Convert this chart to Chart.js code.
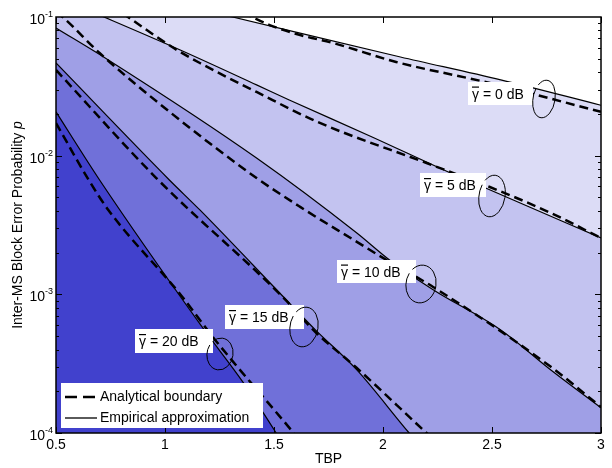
<!DOCTYPE html>
<html lang="en">
<head>
  <meta charset="UTF-8" />
  <title>Inter-MS Block Error Probability vs TBP</title>
  <script src="https://cdn.jsdelivr.net/npm/chart.js"></script>
  <style>
    html, body { margin: 0; padding: 0; background: #fff; }
    #wrap { width: 612px; height: 468px; position: relative; }
  </style>
</head>
<body>
  <div id="wrap"><canvas id="chart"></canvas></div>

  <script>
    // curves: [TBP, p]
    const snrLabels = ['0', '5', '10', '15', '20'];

    const emp0 = [[0.5, 0.2], [1.31, 0.1], [2.08, 0.0515], [2.54, 0.0352], [3.0, 0.0231]];
    const emp5 = [[0.5, 0.14], [0.72, 0.1], [1.07, 0.0578], [1.42, 0.0324], [1.57, 0.0252], [1.95, 0.01365], [2.31, 0.0075], [2.46, 0.00594], [3.0, 0.00255]];
    const emp10 = [[0.5, 0.0833], [0.74, 0.049], [1.42, 0.00962], [1.88, 0.00277], [2.03, 0.00177], [2.23, 0.00108], [2.54, 0.000554], [2.77, 0.000285], [3.0, 0.000152]];
    const emp15 = [[0.5, 0.0466], [1.02, 0.00668], [1.16, 0.00406], [1.57, 0.000867], [1.69, 0.000554], [1.88, 0.000285], [2.12, 0.0001], [2.2, 0.000072]];
    const emp20 = [[0.5, 0.0207], [0.70, 0.00668], [1.17, 0.000582], [1.36, 0.00023], [1.51, 0.0001], [1.6, 0.000059]];

    const ana0 = [[1.3, 0.12], [1.40, 0.1], [1.48, 0.0875], [1.62, 0.0741], [1.77, 0.065], [2.06, 0.0474], [2.49, 0.0334], [3.0, 0.0207]];
    const ana5 = [[0.7, 0.138], [0.83, 0.1], [1.04, 0.0597], [1.16, 0.0466], [1.42, 0.0288], [1.70, 0.0175], [2.20, 0.00885], [2.49, 0.00594], [2.77, 0.00386], [3.0, 0.00255]];
    const ana10 = [[0.45, 0.125], [0.53, 0.1], [0.70, 0.055], [1.04, 0.0196], [1.42, 0.0069], [1.62, 0.00427], [1.88, 0.00239], [2.0, 0.00183], [2.23, 0.00113], [2.77, 0.0003], [3.0, 0.000154]];
    const ana15 = [[0.5, 0.0415], [0.96, 0.0069], [1.54, 0.000957], [1.69, 0.000535], [1.88, 0.000294], [2.2, 0.0001], [2.3, 0.000072]];
    const ana20 = [[0.5, 0.0172], [0.65, 0.00668], [0.74, 0.00406], [1.08, 0.000957], [1.17, 0.000622], [1.23, 0.000469], [1.59, 0.0001], [1.7, 0.000061]];

    const xTicks = [0.5, 1, 1.5, 2, 2.5, 3];
    const xTickLabels = ['0.5', '1', '1.5', '2', '2.5', '3'];
    const yDecades = [1e-1, 1e-2, 1e-3, 1e-4];
    const yExpLabels = ['-1', '-2', '-3', '-4'];

    // region colours, 0 dB band lightest
    const bandColors = ['#dcdcf6', '#c3c3f0', '#9f9fe6', '#7070d9', '#4141cd'];

    const FONT = '"Liberation Sans", Arial, sans-serif';
    const pts = arr => arr.map(([x, y]) => ({ x, y }));

    const dashed = d => ({
      data: pts(d), borderColor: '#000', borderWidth: 2.5, borderDash: [9, 5],
      pointRadius: 0, fill: false, cubicInterpolationMode: 'monotone'
    });
    const solid = (d, c) => ({
      data: pts(d), borderColor: '#000', borderWidth: 1.2, backgroundColor: c,
      pointRadius: 0, fill: 'start', cubicInterpolationMode: 'monotone'
    });

    // labels: box [x, y, w, h], ellipse [cx, cy, rx, ry]
    const labelBoxes = [[468, 82, 65, 23], [420, 173, 66, 24], [337, 260, 79, 23], [225, 305, 79, 24], [135, 329, 78, 24]];
    const loops = [[544, 99, 11, 19], [492, 196, 13, 21], [421, 284, 15, 19], [304, 327, 14, 20], [220, 354, 13, 16]];

    const decor = {
      id: 'decor',
      afterDatasetsDraw(chart) {
        const { ctx, chartArea: a, scales: { x, y } } = chart;
        ctx.save();

        // frame
        ctx.strokeStyle = '#000';
        ctx.lineWidth = 1.5;
        ctx.strokeRect(a.left, a.top, a.right - a.left, a.bottom - a.top);

        // inward ticks
        ctx.lineWidth = 1;
        ctx.beginPath();
        xTicks.forEach(v => {
          const px = Math.round(x.getPixelForValue(v)) + 0.5;
          ctx.moveTo(px, a.bottom); ctx.lineTo(px, a.bottom - 6);
          ctx.moveTo(px, a.top); ctx.lineTo(px, a.top + 6);
        });
        for (let d = -4; d < -1; d++) {
          for (let k = 1; k <= 9; k++) {
            const py = Math.round(y.getPixelForValue(k * Math.pow(10, d))) + 0.5;
            const len = k === 1 ? 6 : 3;
            ctx.moveTo(a.left, py); ctx.lineTo(a.left + len, py);
            ctx.moveTo(a.right, py); ctx.lineTo(a.right - len, py);
          }
        }
        ctx.stroke();

        // y tick labels 10^n
        ctx.fillStyle = '#000';
        ctx.textBaseline = 'alphabetic';
        yDecades.forEach((v, i) => {
          const py = y.getPixelForValue(v);
          ctx.font = '14px ' + FONT;
          ctx.textAlign = 'right';
          ctx.fillText('10', 45, py + 7);
          ctx.font = '9px ' + FONT;
          ctx.textAlign = 'left';
          ctx.fillText(yExpLabels[i], 45, py);
        });

        // y axis title with italic p
        ctx.save();
        ctx.translate(18, (a.top + a.bottom) / 2);
        ctx.rotate(-Math.PI / 2);
        ctx.textAlign = 'left';
        ctx.textBaseline = 'middle';
        ctx.font = '14px ' + FONT;
        const t1 = 'Inter-MS Block Error Probability ';
        const w1 = ctx.measureText(t1).width;
        ctx.font = 'italic 14px ' + FONT;
        const w2 = ctx.measureText('p').width;
        const sx = -(w1 + w2) / 2;
        ctx.font = '14px ' + FONT;
        ctx.fillText(t1, sx, 0);
        ctx.font = 'italic 14px ' + FONT;
        ctx.fillText('p', sx + w1, 0);
        ctx.restore();

        // gamma labels
        labelBoxes.forEach(([bx, by, bw, bh], i) => {
          ctx.fillStyle = '#fff';
          ctx.fillRect(bx, by, bw, bh);
          ctx.fillStyle = '#000';
          ctx.font = '14px ' + FONT;
          ctx.textAlign = 'left';
          ctx.textBaseline = 'alphabetic';
          const tx = bx + 4, base = by + bh / 2 + 5;
          ctx.fillText('γ', tx, base);
          const gw = ctx.measureText('γ').width;
          ctx.fillRect(tx, base - 12, gw, 1.2);
          ctx.fillText(' = ' + snrLabels[i] + ' dB', tx + gw, base);

          const [cx, cy, rx, ry] = loops[i];
          ctx.beginPath();
          ctx.lineWidth = 1;
          ctx.ellipse(cx, cy, rx, ry, 0.18, -2.4, 3.6);
          ctx.stroke();
        });

        // legend
        ctx.fillStyle = '#fff';
        ctx.fillRect(61, 383, 202, 45);
        ctx.strokeStyle = '#000';
        ctx.lineWidth = 2.5;
        ctx.setLineDash([12, 6]);
        ctx.beginPath();
        ctx.moveTo(65, 397); ctx.lineTo(97, 397);
        ctx.stroke();
        ctx.setLineDash([]);
        ctx.lineWidth = 1.3;
        ctx.beginPath();
        ctx.moveTo(65, 418); ctx.lineTo(97, 418);
        ctx.stroke();
        ctx.fillStyle = '#000';
        ctx.font = '14px ' + FONT;
        ctx.textAlign = 'left';
        ctx.textBaseline = 'middle';
        ctx.fillText('Analytical boundary', 100, 397);
        ctx.fillText('Empirical approximation', 100, 418);

        ctx.restore();
      }
    };

    new Chart(document.getElementById('chart'), {
      type: 'line',
      data: {
        datasets: [
          dashed(ana20), dashed(ana15), dashed(ana10), dashed(ana5), dashed(ana0),
          solid(emp20, bandColors[4]), solid(emp15, bandColors[3]), solid(emp10, bandColors[2]),
          solid(emp5, bandColors[1]), solid(emp0, bandColors[0])
        ]
      },
      options: {
        responsive: true,
        maintainAspectRatio: false,
        animation: false,
        layout: { padding: { top: 17, right: 11, left: 0, bottom: 0 } },
        plugins: { legend: { display: false }, tooltip: { enabled: false } },
        scales: {
          x: {
            type: 'linear', min: 0.5, max: 3,
            afterFit: s => { s.height = 35; },
            afterBuildTicks: s => { s.ticks = xTicks.map(v => ({ value: v })); },
            grid: { display: false, drawTicks: false },
            border: { display: false },
            ticks: {
              padding: 4, color: '#000', font: { family: FONT, size: 14 },
              maxRotation: 0,
              callback: v => xTickLabels[xTicks.indexOf(v)]
            },
            title: { display: true, text: 'TBP', color: '#000', font: { family: FONT, size: 14 }, padding: { top: 1, bottom: 0 } }
          },
          y: {
            type: 'logarithmic', min: 1e-4, max: 1e-1,
            afterFit: s => { s.width = 56; },
            grid: { display: false },
            border: { display: false },
            ticks: { display: false }
          }
        }
      },
      plugins: [decor]
    });
  </script>
</body>
</html>
